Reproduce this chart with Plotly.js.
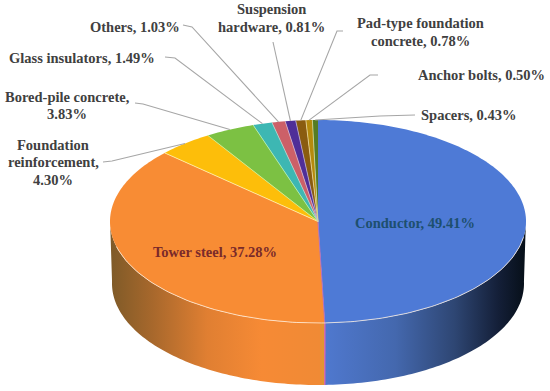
<!DOCTYPE html>
<html>
<head>
<meta charset="utf-8">
<script src="https://cdn.plot.ly/plotly-3.0.1.min.js"></script>
<style>html,body{margin:0;padding:0;background:#fff}#c{width:550px;height:391px}</style>
</head>
<body>
<div id="c"></div>
<script>
// Data
const categories = ["Conductor","Tower steel","Foundation reinforcement","Bored-pile concrete","Glass insulators","Others","Suspension hardware","Pad-type foundation concrete","Anchor bolts","Spacers"];
const shares = [49.41,37.28,4.30,3.83,1.49,1.03,0.81,0.78,0.50,0.43];
const labelTexts = ["Conductor, 49.41%","Tower steel, 37.28%","Foundation<br>reinforcement,<br>4.30%","Bored-pile concrete,<br>3.83%","Glass insulators, 1.49%","Others, 1.03%","Suspension<br>hardware, 0.81%","Pad-type foundation<br>concrete, 0.78%","Anchor bolts, 0.50%","Spacers, 0.43%"];
const sliceColors = ["#4E7AD6","#F88C34","#FDBE0A","#7CC143","#3DB7B3","#CC6068","#4F2E98","#8A5C10","#B58A0C","#557C24"];

// Layout (pixel-like axis units)
const geo = {cx:318, cy:221.5, rx:208, ry:101.5, depth:62, rxLow:206};
const labelX = [415,215,53,67,81.5,134.5,271,420,481,468.5];
const labelY = [223,252,162,105.5,58,27,18,32,75,115];
const lineGap = 17.5;
const labelColors = ["#1D4F6E","#7A2A2A","#404040","#404040","#404040","#404040","#404040","#404040","#404040","#404040"];
const elbowA = [null,null,[103,162],[135,103],[165,57],[183,25],null,[343,31],[378,75],[415,115]];
const elbowB = [null,null,[112,161],[143,104],[175,58],[192,27],[273,42],[337,31],[370,75],[380,116]];

const total = shares.reduce((a,b)=>a+b,0);
let run = 0;
const starts = [], ends = [];
shares.forEach(v=>{starts.push(run/total*2*Math.PI); run+=v; ends.push(run/total*2*Math.PI);});
const px = (t,r=geo.rx)=>geo.cx+r*Math.sin(t);
const py = (t,dy=0)=>geo.cy-geo.ry*Math.cos(t)+dy;
function arc(a,b,r,dy){
  const n=Math.max(2,Math.ceil(Math.abs(b-a)/0.02)), xs=[], ys=[];
  for(let i=0;i<=n;i++){const t=a+(b-a)*i/n; xs.push(px(t,r)); ys.push(py(t,dy));}
  return [xs,ys];
}
const traces = [];
// side walls
function wall(a,b,stops,x0,x1){
  const [tx,ty]=arc(a,b,geo.rx,0), [bx,by]=arc(b,a,geo.rxLow,geo.depth);
  traces.push({type:'scatter',mode:'none',x:tx.concat(bx),y:ty.concat(by),fill:'toself',
    fillgradient:{type:'horizontal',start:x0,stop:x1,colorscale:stops}});
}
wall(Math.PI/2-0.02,ends[0],[[0,'#4F78CE'],[0.35,'#4468AE'],[0.65,'#2E4673'],[0.87,'#141F38'],[1,'#07101A']],326,524);
wall(ends[0],3*Math.PI/2+0.02,[[0,'#7E5A28'],[0.2,'#A8682C'],[0.45,'#E07F32'],[0.7,'#F68A35'],[0.97,'#F08A35'],[1,'#D4A030']],110,326);
// wall divider between the two largest shares
{
  const t=ends[0];
  traces.push({type:'scatter',mode:'lines',x:[px(t),px(t,geo.rxLow)],y:[py(t),py(t,geo.depth)],line:{color:'#D868B0',width:1.4}});
}
// top slices
shares.forEach((v,i)=>{
  const [ax,ay]=arc(starts[i],ends[i],geo.rx,0);
  traces.push({type:'scatter',mode:'none',name:categories[i],
    x:[geo.cx].concat(ax,[geo.cx]),y:[geo.cy].concat(ay,[geo.cy]),fill:'toself',fillcolor:sliceColors[i]});
});
// slice dividers
const divColors=["#FBE6C0","#FFF0B0","#D8F090","#B8F0B0","#B0D8D0","#D8B8C8","#B8A8D8","#E8D8A0","#D0D8A0","#C8A0D8"];
shares.forEach((v,i)=>{
  if(i===9) return;
  const t=ends[i], col=i===0?'#B070C0':divColors[i];
  traces.push({type:'scatter',mode:'lines',x:[geo.cx,px(t)],y:[geo.cy,py(t)],line:{color:col,width:i===0?1:0.8}});
});
// rim highlight along the front
{
  const [fx,fy]=arc(Math.PI*0.55,Math.PI*1.42,geo.rx,0);
  traces.push({type:'scatter',mode:'lines',x:fx,y:fy,line:{color:'rgba(255,240,225,0.85)',width:0.9}});
}
// leader lines
shares.forEach((v,i)=>{
  if(!elbowB[i]) return;
  const m=(starts[i]+ends[i])/2, xs=[], ys=[];
  if(elbowA[i]){xs.push(elbowA[i][0]);ys.push(elbowA[i][1]);}
  xs.push(elbowB[i][0],px(m)); ys.push(elbowB[i][1],py(m));
  traces.push({type:'scatter',mode:'lines',x:xs,y:ys,line:{color:'#A6A6A6',width:1.1}});
});
const annotations = [];
labelTexts.forEach((t,i)=>{
  const lines=t.split('<br>');
  lines.forEach((ln,k)=>annotations.push({x:labelX[i],y:labelY[i]+(k-(lines.length-1)/2)*lineGap,xref:'x',yref:'y',text:ln,showarrow:false,
    xanchor:'center',yanchor:'middle',align:'center',
    font:{family:'"Liberation Serif",serif',size:14.5,color:labelColors[i],weight:700}}));
});
Plotly.newPlot('c',traces,{
  width:550,height:391,margin:{l:0,r:0,t:0,b:0},showlegend:false,hovermode:false,
  paper_bgcolor:'#fff',plot_bgcolor:'#fff',
  xaxis:{range:[0,550],visible:false,fixedrange:true},
  yaxis:{range:[391,0],visible:false,fixedrange:true},
  annotations
},{staticPlot:true,displayModeBar:false});
</script>
</body>
</html>
